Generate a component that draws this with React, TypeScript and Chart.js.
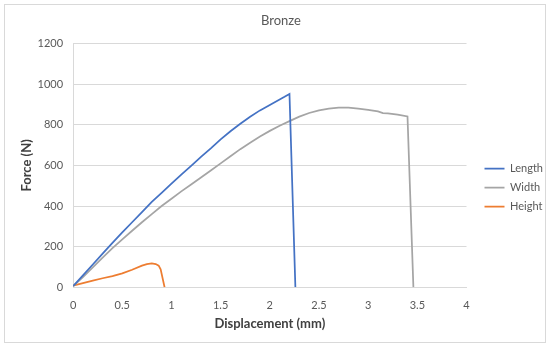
import React, { useEffect, useRef } from "react";
import { Chart, registerables } from "chart.js";

Chart.register(...registerables);

const lengthX = [0, 0.1, 0.2, 0.3, 0.4, 0.5, 0.6, 0.7, 0.8, 0.9, 1.0, 1.1, 1.2, 1.3, 1.4, 1.5, 1.6, 1.7, 1.8, 1.9, 2.0, 2.1, 2.15, 2.2, 2.26];
const lengthY = [5, 58, 112, 165, 218, 270, 320, 370, 420, 465, 510, 555, 598, 642, 684, 728, 768, 805, 840, 871, 898, 925, 938, 952, 0];

const widthX = [0, 0.1, 0.2, 0.3, 0.4, 0.5, 0.6, 0.7, 0.8, 0.9, 1.0, 1.1, 1.2, 1.3, 1.4, 1.5, 1.6, 1.7, 1.8, 1.9, 2.0, 2.1, 2.2, 2.3, 2.4, 2.5, 2.6, 2.7, 2.8, 2.9, 3.0, 3.1, 3.15, 3.2, 3.3, 3.4, 3.46];
const widthY = [5, 50, 98, 146, 192, 236, 278, 320, 360, 400, 436, 472, 506, 540, 575, 610, 645, 680, 712, 742, 770, 795, 818, 840, 858, 871, 880, 885, 884, 880, 874, 866, 858, 856, 850, 841, 0];

const heightX = [0, 0.05, 0.1, 0.2, 0.3, 0.4, 0.5, 0.6, 0.7, 0.75, 0.8, 0.84, 0.87, 0.89, 0.93];
const heightY = [8, 14, 20, 32, 44, 55, 68, 86, 106, 114, 117, 114, 106, 88, 0];

const seriesNames = ["Length", "Width", "Height"];
const seriesColors = ["#4472C4", "#A5A5A5", "#ED7D31"];

const FONT = "Lato, 'Open Sans', sans-serif";
const TEXT = "#595959";

function pts(xs: number[], ys: number[]) {
  return xs.map((x, i) => ({ x, y: ys[i] }));
}

const legendShift = {
  id: "legendShift",
  afterLayout(chart: any) {
    const lg = chart.legend;
    if (!lg) return;
    lg.left += 10;
    lg.right += 10;
    lg.top += 19;
    lg.bottom += 19;
  },
};

export default function App() {
  const ref = useRef<HTMLCanvasElement>(null);
  useEffect(() => {
    if (!ref.current) return;
    const data = [pts(lengthX, lengthY), pts(widthX, widthY), pts(heightX, heightY)];
    const chart = new Chart(ref.current, {
      type: "scatter",
      data: {
        datasets: data.map((d, i) => ({
          label: seriesNames[i],
          data: d,
          showLine: true,
          borderColor: seriesColors[i],
          backgroundColor: seriesColors[i],
          borderWidth: 1.75,
          pointRadius: 0,
          pointHoverRadius: 0,
          tension: 0,
        })),
      },
      plugins: [legendShift],
      options: {
        animation: false,
        responsive: false,
        maintainAspectRatio: false,
        layout: { padding: { left: 14, right: 2, top: 0, bottom: 10 } },
        plugins: {
          title: {
            display: true,
            text: "Bronze",
            color: TEXT,
            font: { family: FONT, size: 13, weight: "normal" },
            padding: { top: 8, bottom: 15 },
          },
          legend: {
            position: "right",
            maxWidth: 79,
            labels: {
              color: TEXT,
              font: { family: FONT, size: 11 },
              usePointStyle: true,
              pointStyle: "line",
              pointStyleWidth: 20,
              boxHeight: 11,
              padding: 8,
            },
          },
          tooltip: { enabled: false },
        },
        scales: {
          x: {
            type: "linear",
            min: 0,
            max: 4,
            ticks: {
              stepSize: 0.5,
              color: TEXT,
              font: { family: FONT, size: 11 },
              padding: 4,
              callback: (v: any) => String(v),
            },
            grid: { display: false },
            border: { display: true, color: "#D9D9D9" },
            title: {
              display: true,
              text: "Displacement (mm)",
              color: "#404040",
              font: { family: FONT, size: 13, weight: "bold" },
              padding: { top: 0, bottom: 0 },
            },
          },
          y: {
            type: "linear",
            min: 0,
            max: 1200,
            ticks: {
              stepSize: 200,
              color: TEXT,
              font: { family: FONT, size: 11 },
              padding: 10,
              callback: (v: any) => String(v),
            },
            grid: { color: "#D9D9D9", drawTicks: false },
            border: { display: true, color: "#D9D9D9" },
            title: {
              display: true,
              text: "Force (N)",
              color: "#404040",
              font: { family: FONT, size: 13, weight: "bold" },
              padding: { top: 0, bottom: -7 },
            },
          },
        },
      },
    });
    return () => chart.destroy();
  }, []);
  return (
    <div style={{ position: "fixed", left: 0, top: 0, width: 550, height: 350, background: "#fff" }}>
      <div
        style={{
          position: "absolute",
          left: 4,
          top: 4,
          width: 540,
          height: 337,
          border: "1px solid #D9D9D9",
        }}
      >
        <canvas ref={ref} width={540} height={337} style={{ display: "block" }} />
      </div>
    </div>
  );
}
